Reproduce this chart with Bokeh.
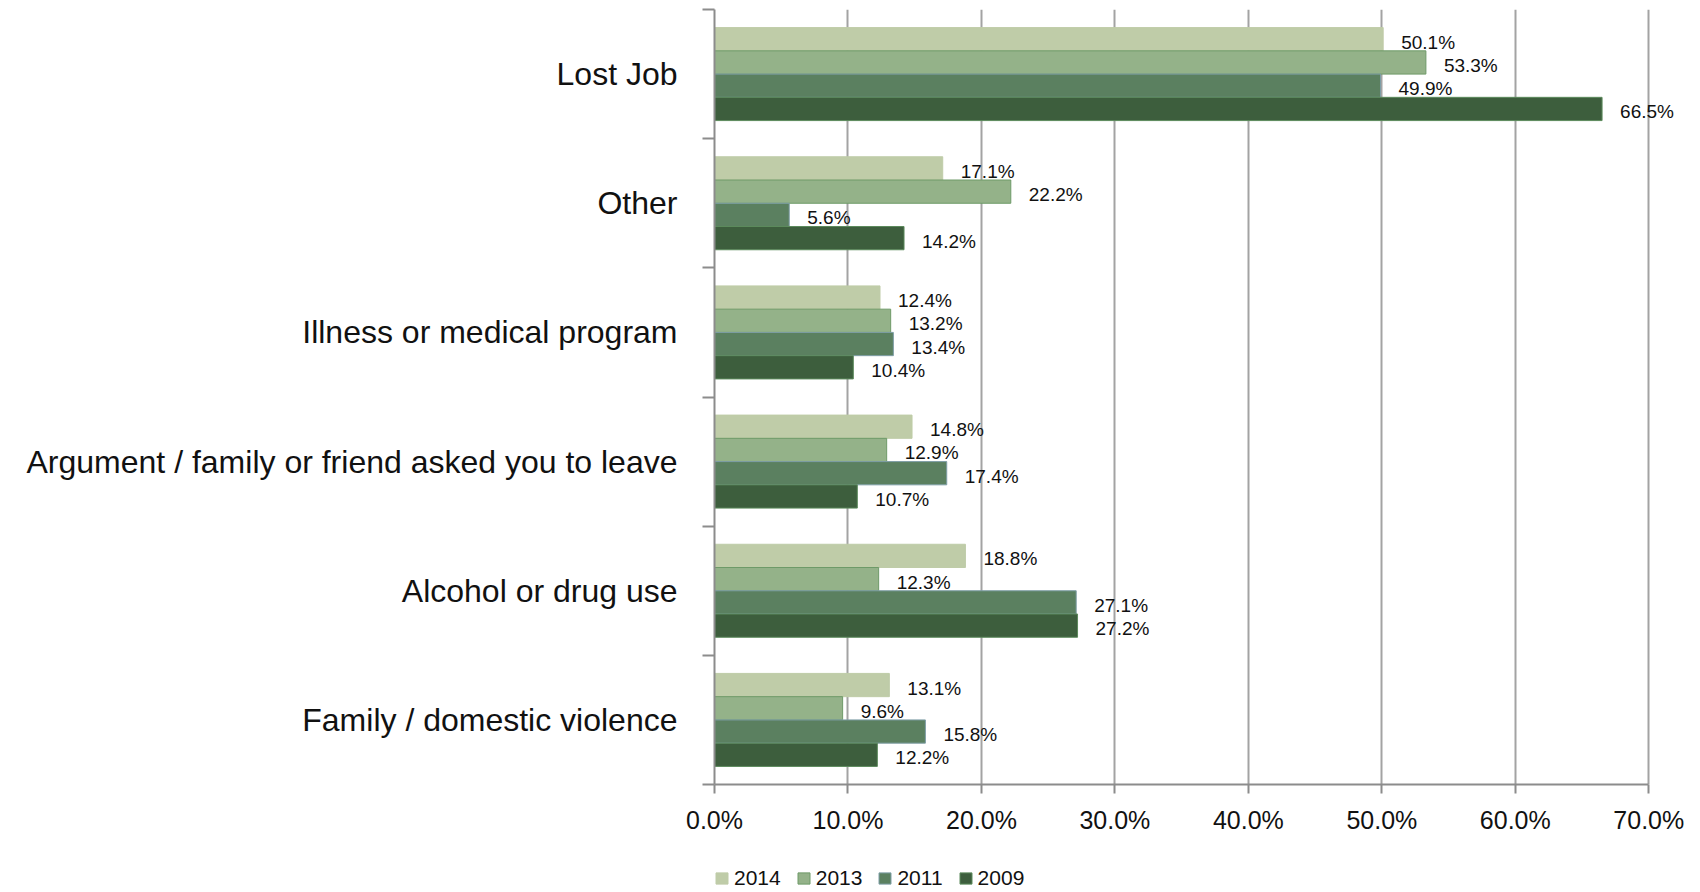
from bokeh.plotting import figure
from bokeh.layouts import column
from bokeh.models import (ColumnDataSource, Range1d, FixedTicker, PrintfTickFormatter,
                          Legend, LegendItem, LabelSet)
from bokeh.core.properties import value
from bokeh.embed import file_html
from bokeh.resources import INLINE

# Categories listed top to bottom as in the chart
categories = ["Lost Job", "Other", "Illness or medical program",
              "Argument / family or friend asked you to leave",
              "Alcohol or drug use", "Family / domestic violence"]
years = ["2014", "2013", "2011", "2009"]
v2014 = [50.1, 17.1, 12.4, 14.8, 18.8, 13.1]
v2013 = [53.3, 22.2, 13.2, 12.9, 12.3, 9.6]
v2011 = [49.9, 5.6, 13.4, 17.4, 27.1, 15.8]
v2009 = [66.5, 14.2, 10.4, 10.7, 27.2, 12.2]
x_ticks = [0, 10, 20, 30, 40, 50, 60, 70]

series = [v2014, v2013, v2011, v2009]
fills = ["#BFCCA8", "#94B289", "#5B8060", "#3D5E3D"]
lines = ["#BFCCA8", "#6E9A68", "#7E9EA6", "#5C8A5C"]
offsets = [0.27, 0.09, -0.09, -0.27]

FONT = "Liberation Sans"
n = len(categories)
centers = [n - 0.5 - i for i in range(n)]

p = figure(width=1700, height=853, output_backend="svg", toolbar_location=None,
           x_range=Range1d(0, 73.5), y_range=Range1d(0, n))
p.min_border_left = 714
p.min_border_right = 5
p.min_border_top = 9
p.min_border_bottom = 69
p.outline_line_color = None
p.background_fill_color = "white"
p.border_fill_color = "white"

# grid
p.xgrid.ticker = FixedTicker(ticks=x_ticks)
p.xgrid.grid_line_color = "#A3A3A3"
p.xgrid.grid_line_width = 2
p.ygrid.grid_line_color = None

sources = []
for vals, fc, lc, off in zip(series, fills, lines, offsets):
    src = ColumnDataSource(dict(
        y=[c + off for c in centers], right=vals,
        label=[f"{v:.1f}%" for v in vals]))
    sources.append(src)
    p.hbar(y="y", right="right", left=0, height=0.18, source=src,
           fill_color=fc, line_color=lc, line_width=1)
    labels = LabelSet(x="right", y="y", text="label", source=src, x_offset=18, y_offset=-3,
                      text_font=value(FONT), text_font_size=value("19px"), text_color="#111111",
                      text_baseline="middle", text_align="left")
    p.add_layout(labels)

# x axis
xa = p.xaxis[0]
xa.bounds = (0, 70)
xa.ticker = FixedTicker(ticks=x_ticks)
xa.formatter = PrintfTickFormatter(format="%.1f%%")
xa.major_label_text_font = FONT
xa.major_label_text_font_size = "25px"
xa.major_label_text_color = "#111111"
xa.major_label_standoff = 12
xa.axis_line_color = "#8C8C8C"
xa.axis_line_width = 2
xa.major_tick_line_color = "#8C8C8C"
xa.major_tick_line_width = 2
xa.major_tick_out = 9
xa.major_tick_in = 0
xa.minor_tick_line_color = None

# y axis: labels at centers, ticks at category boundaries
ya = p.yaxis[0]
ya.ticker = FixedTicker(ticks=centers, minor_ticks=list(range(n + 1)))
ya.major_label_overrides = {c: cat for c, cat in zip(centers, categories)}
ya.major_label_text_font = FONT
ya.major_label_text_font_size = "32px"
ya.major_label_text_color = "#111111"
ya.major_label_standoff = 25
ya.major_tick_line_color = None
ya.major_tick_out = 12
ya.major_tick_in = 0
ya.minor_tick_line_color = "#8C8C8C"
ya.minor_tick_line_width = 2
ya.minor_tick_out = 12
ya.minor_tick_in = 0
ya.axis_line_color = "#8C8C8C"
ya.axis_line_width = 2

# legend strip below the chart (its bars lie outside its view; only the legend shows)
lg = figure(width=1700, height=39, output_backend="svg", toolbar_location=None,
            x_range=Range1d(0, 73.5), y_range=Range1d(100, 101))
lg.min_border = 0
lg.outline_line_color = None
lg.axis.visible = False
lg.grid.visible = False
items = []
for yr, src, fc, lc in zip(years, sources, fills, lines):
    r = lg.hbar(y="y", right="right", left=0, height=0.18, source=src,
                fill_color=fc, line_color=lc, line_width=1)
    items.append(LegendItem(label=yr, renderers=[r]))
legend = Legend(items=items, orientation="horizontal", location=(0, 2))
legend.glyph_width = 15
legend.glyph_height = 14
legend.label_standoff = 5
legend.spacing = 15
legend.padding = 0
legend.margin = 0
legend.border_line_color = None
legend.background_fill_alpha = 0
legend.label_text_font = FONT
legend.label_text_font_size = "21px"
legend.label_text_color = "#111111"
lg.add_layout(legend, "center")

open("out.html", "w").write(file_html(column(p, lg, spacing=0), INLINE))
